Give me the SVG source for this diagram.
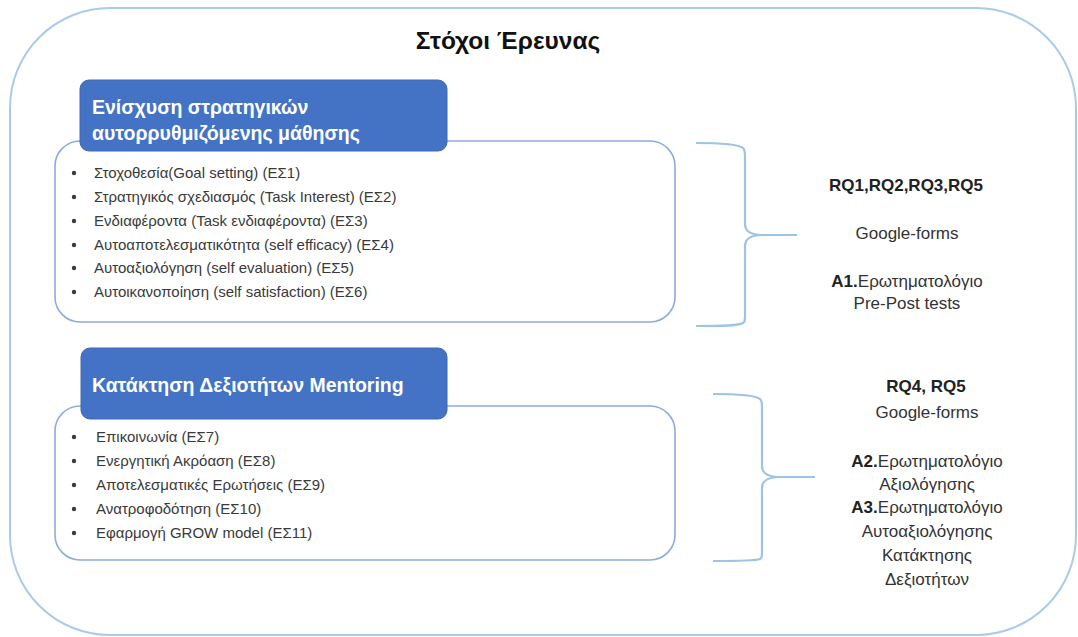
<svg xmlns="http://www.w3.org/2000/svg" width="1078" height="637" viewBox="0 0 1078 637">
<style>
.outer{fill:#fff;stroke:#A9CBEA;stroke-width:2}
.panel{fill:#fff;stroke:#8FAADC;stroke-width:1.6}
.head{fill:#4472C4;stroke:#3F68B4;stroke-width:1}
.brace{fill:none;stroke:#9DC3E6;stroke-width:2.2;stroke-linejoin:round}
.title{font-family:"Liberation Sans",Arial,sans-serif;font-size:24.5px;font-weight:bold;fill:#111}
.htxt{font-family:"Liberation Sans",Arial,sans-serif;font-size:19.5px;font-weight:bold;fill:#fff}
.item{font-family:"Liberation Sans",Arial,sans-serif;font-size:15px;fill:#3a3a3a}
.bul{fill:#3a3a3a}
.rt{font-family:"Liberation Sans",Arial,sans-serif;font-size:17px;fill:#333;text-anchor:middle}
.b{font-weight:bold;fill:#222}
</style>
<rect class="outer" x="10" y="8" width="1066" height="627" rx="100" ry="100"/>
<text class="title" x="508" y="49" text-anchor="middle">Στόχοι Έρευνας</text>

<g id="connectors">
<path class="brace" d="M696 143 C720 143 738 144 743 148 C745 150 745 152 745 156 L745 224 C745 230 748 234 760 235 L797 235 M760 235 C748 236 745 240 745 246 L745 316 C745 320 745 322 743 323 C738 326 720 326 696 326"/>
<path class="brace" d="M713 394 C737 394 755 395 760 399 C762 401 762 403 762 407 L762 466 C762 472 765 476 777 477 L815 477 M777 477 C765 478 762 482 762 488 L762 552 C762 556 762 558 760 559 C755 561 737 561 713 561"/>
</g>

<g id="panel1">
<rect class="panel" x="55" y="141" width="620" height="181" rx="25" ry="25"/>
<g class="item">
<text x="94" y="178">Στοχοθεσία(Goal setting) (ΕΣ1)</text>
<text x="94" y="202">Στρατηγικός σχεδιασμός (Task Interest) (ΕΣ2)</text>
<text x="94" y="226">Ενδιαφέροντα (Task ενδιαφέροντα) (ΕΣ3)</text>
<text x="94" y="250">Αυτοαποτελεσματικότητα (self efficacy) (ΕΣ4)</text>
<text x="94" y="273">Αυτοαξιολόγηση (self evaluation) (ΕΣ5)</text>
<text x="94" y="297">Αυτοικανοποίηση (self satisfaction) (ΕΣ6)</text>
</g>
<g class="bul">
<circle cx="74" cy="173" r="2.2"/><circle cx="74" cy="197" r="2.2"/><circle cx="74" cy="221" r="2.2"/>
<circle cx="74" cy="245" r="2.2"/><circle cx="74" cy="268" r="2.2"/><circle cx="74" cy="292" r="2.2"/>
</g>
</g>
<g id="head1">
<rect class="head" x="80" y="80" width="367" height="71" rx="9" ry="9"/>
<text class="htxt" x="92" y="114">Ενίσχυση στρατηγικών</text>
<text class="htxt" x="92" y="140">αυτορρυθμιζόμενης μάθησης</text>
</g>

<g id="panel2">
<rect class="panel" x="55" y="406" width="620" height="154" rx="25" ry="25"/>
<g class="item">
<text x="96" y="442">Επικοινωνία (ΕΣ7)</text>
<text x="96" y="466">Ενεργητική Ακρόαση (ΕΣ8)</text>
<text x="96" y="490">Αποτελεσματικές Ερωτήσεις (ΕΣ9)</text>
<text x="96" y="514">Ανατροφοδότηση (ΕΣ10)</text>
<text x="96" y="538">Εφαρμογή GROW model (ΕΣ11)</text>
</g>
<g class="bul">
<circle cx="74" cy="437" r="2.2"/><circle cx="74" cy="461" r="2.2"/><circle cx="74" cy="485" r="2.2"/>
<circle cx="74" cy="509" r="2.2"/><circle cx="74" cy="533" r="2.2"/>
</g>
</g>
<g id="head2">
<rect class="head" x="81" y="348" width="366" height="71" rx="9" ry="9"/>
<text class="htxt" x="92" y="392">Κατάκτηση Δεξιοτήτων Mentoring</text>
</g>

<g id="methods1">
<text class="rt b" x="906" y="191">RQ1,RQ2,RQ3,RQ5</text>
<text class="rt" x="907" y="239">Google-forms</text>
<text class="rt" x="907" y="287"><tspan class="b">A1.</tspan>Ερωτηματολόγιο</text>
<text class="rt" x="907" y="309">Pre-Post tests</text>
</g>

<g id="methods2">
<text class="rt b" x="926" y="392">RQ4, RQ5</text>
<text class="rt" x="927" y="418">Google-forms</text>
<text class="rt" x="927" y="467"><tspan class="b">A2.</tspan>Ερωτηματολόγιο</text>
<text class="rt" x="927" y="490">Αξιολόγησης</text>
<text class="rt" x="927" y="513"><tspan class="b">A3.</tspan>Ερωτηματολόγιο</text>
<text class="rt" x="927" y="537">Αυτοαξιολόγησης</text>
<text class="rt" x="927" y="561">Κατάκτησης</text>
<text class="rt" x="927" y="585">Δεξιοτήτων</text>
</g>
</svg>
